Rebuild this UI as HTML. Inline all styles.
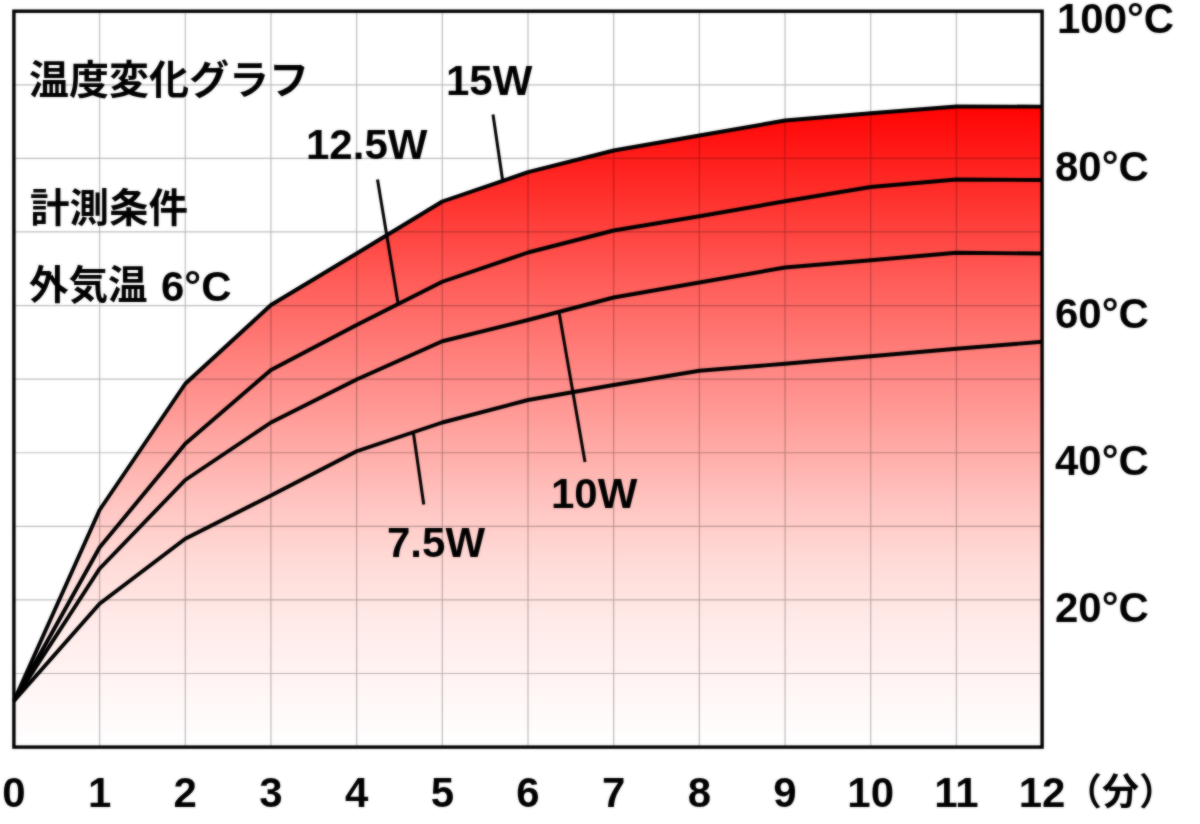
<!DOCTYPE html>
<html lang="ja"><head><meta charset="utf-8"><title>温度変化グラフ</title>
<style>html,body{margin:0;padding:0;background:#fff;font-family:"Liberation Sans",sans-serif}svg{display:block}</style></head><body>
<svg width="1200" height="824" viewBox="0 0 1200 824" role="img" aria-labelledby="t d">
<title id="t">温度変化グラフ</title>
<desc id="d">温度変化グラフ 計測条件 外気温 6°C 15W 12.5W 10W 7.5W 100°C 80°C 60°C 40°C 20°C 0 1 2 3 4 5 6 7 8 9 10 11 12（分）</desc>
<defs><linearGradient id="g" gradientUnits="userSpaceOnUse" x1="0" y1="100" x2="0" y2="747"><stop offset="0.0000" stop-color="#ff0000"/><stop offset="0.0309" stop-color="#ff0a09"/><stop offset="0.1546" stop-color="#ff322e"/><stop offset="0.2782" stop-color="#ff5c58"/><stop offset="0.3833" stop-color="#ff7c78"/><stop offset="0.5131" stop-color="#ffa39f"/><stop offset="0.6182" stop-color="#ffc3bf"/><stop offset="0.7110" stop-color="#ffdad7"/><stop offset="0.8037" stop-color="#ffeae8"/><stop offset="0.8655" stop-color="#fff1f0"/><stop offset="0.9274" stop-color="#fff8f7"/><stop offset="0.9815" stop-color="#fffdfd"/><stop offset="1.0000" stop-color="#ffffff"/></linearGradient></defs>
<filter id="b" x="0" y="0" width="100%" height="100%" filterUnits="objectBoundingBox" color-interpolation-filters="sRGB"><feGaussianBlur in="SourceGraphic" stdDeviation="0.9" edgeMode="duplicate" result="bl"/><feComposite in="SourceGraphic" in2="bl" operator="arithmetic" k1="0" k2="0.45" k3="0.55" k4="0"/></filter>
<g filter="url(#b)">
<rect width="1200" height="824" fill="#fff"/>
<polygon fill="url(#g)" points="13.90,701.00 99.58,510.00 185.27,383.75 270.95,305.00 356.63,253.50 442.32,201.50 528.00,172.20 613.68,150.50 699.37,135.50 785.05,120.50 870.73,113.30 956.42,106.50 1042.10,106.60 1042.10,747.10 13.90,747.10"/>
<path d="M99.58 11.2V747.1M185.27 11.2V747.1M270.95 11.2V747.1M356.63 11.2V747.1M442.32 11.2V747.1M528.00 11.2V747.1M613.68 11.2V747.1M699.37 11.2V747.1M785.05 11.2V747.1M870.73 11.2V747.1M956.42 11.2V747.1M13.9 673.51H1042.1M13.9 599.92H1042.1M13.9 526.33H1042.1M13.9 452.74H1042.1M13.9 379.15H1042.1M13.9 305.56H1042.1M13.9 231.97H1042.1M13.9 158.38H1042.1M13.9 84.79H1042.1" stroke="#000" stroke-opacity=".26" stroke-width="1.2" fill="none"/>
<polyline points="13.90,701.00 99.58,603.75 185.27,538.75 270.95,495.50 356.63,451.25 442.32,422.50 528.00,400.00 613.68,385.00 699.37,370.75 785.05,363.75 870.73,356.25 956.42,348.75 1042.10,341.75" fill="none" stroke="#000" stroke-width="3.9" stroke-linejoin="round"/>
<polyline points="13.90,701.00 99.58,568.75 185.27,480.00 270.95,422.50 356.63,379.50 442.32,341.25 528.00,320.00 613.68,297.50 699.37,282.50 785.05,267.50 870.73,260.25 956.42,252.80 1042.10,253.50" fill="none" stroke="#000" stroke-width="3.9" stroke-linejoin="round"/>
<polyline points="13.90,701.00 99.58,547.50 185.27,443.75 270.95,370.00 356.63,325.00 442.32,281.75 528.00,252.50 613.68,230.50 699.37,216.25 785.05,201.25 870.73,187.00 956.42,179.50 1042.10,180.00" fill="none" stroke="#000" stroke-width="3.9" stroke-linejoin="round"/>
<polyline points="13.90,701.00 99.58,510.00 185.27,383.75 270.95,305.00 356.63,253.50 442.32,201.50 528.00,172.20 613.68,150.50 699.37,135.50 785.05,120.50 870.73,113.30 956.42,106.50 1042.10,106.60" fill="none" stroke="#000" stroke-width="3.9" stroke-linejoin="round"/>
<line x1="493.00" y1="114.50" x2="502.50" y2="179.50" stroke="#000" stroke-width="3"/>
<line x1="377.50" y1="179.50" x2="398.00" y2="303.00" stroke="#000" stroke-width="3"/>
<line x1="559.25" y1="313.50" x2="585.00" y2="462.00" stroke="#000" stroke-width="3"/>
<line x1="413.50" y1="433.50" x2="423.75" y2="504.50" stroke="#000" stroke-width="3"/>
<rect x="13.9" y="11.2" width="1028.2" height="735.9" fill="none" stroke="#000" stroke-width="3.4"/>
<g fill="#000" font-family="&quot;Liberation Sans&quot;, &quot;Noto Sans CJK JP&quot;, sans-serif" font-weight="bold" font-size="42">
<text x="161" y="300.7">6°C</text>
<text x="446" y="95.2">15W</text>
<text x="306" y="159.3">12.5W</text>
<text x="551" y="508">10W</text>
<text x="387" y="557.2">7.5W</text>
<text x="1057" y="33.3">100°C</text>
<text x="1055" y="180.5">80°C</text>
<text x="1055" y="327.7">60°C</text>
<text x="1055" y="474.8">40°C</text>
<text x="1055" y="622">20°C</text>
<text x="13.9" y="806.8" text-anchor="middle">0</text>
<text x="99.58" y="806.8" text-anchor="middle">1</text>
<text x="185.27" y="806.8" text-anchor="middle">2</text>
<text x="270.95" y="806.8" text-anchor="middle">3</text>
<text x="356.63" y="806.8" text-anchor="middle">4</text>
<text x="442.32" y="806.8" text-anchor="middle">5</text>
<text x="528" y="806.8" text-anchor="middle">6</text>
<text x="613.68" y="806.8" text-anchor="middle">7</text>
<text x="699.37" y="806.8" text-anchor="middle">8</text>
<text x="785.05" y="806.8" text-anchor="middle">9</text>
<text x="870.73" y="806.8" text-anchor="middle">10</text>
<text x="956.42" y="806.8" text-anchor="middle">11</text>
<text x="1042.1" y="806.8" text-anchor="middle">12</text>
</g><g fill="#000" font-family="&quot;Liberation Sans&quot;, &quot;Noto Sans CJK JP&quot;, sans-serif" font-weight="bold">
<text x="29" y="94" font-size="40">温度変化グラフ</text>
<text x="30" y="222" font-size="39.5">計測条件</text>
<text x="29" y="299" font-size="39.5">外気温</text>
<text x="1065" y="805" font-size="37">（分）</text>
</g></g></svg></body></html>
